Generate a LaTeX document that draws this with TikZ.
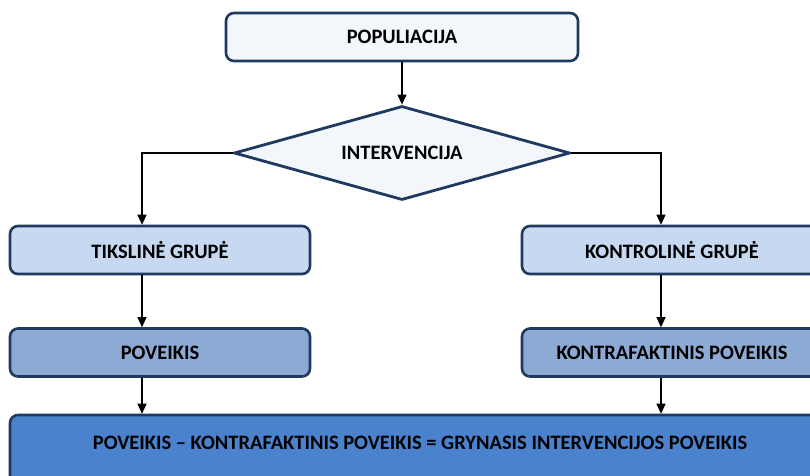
\documentclass[tikz,border=0pt]{standalone}
\usepackage{fontspec}
\setmainfont{Carlito}
\usetikzlibrary{shapes.geometric,arrows.meta}
\definecolor{navy}{HTML}{1F3A60}
\definecolor{fillA}{HTML}{F3F7FC}
\definecolor{fillB}{HTML}{C6D9F1}
\definecolor{fillC}{HTML}{8DAAD4}
\definecolor{fillD}{HTML}{4A82CE}
\tikzset{
  box/.style={draw=navy, line width=2.6pt, rounded corners=8pt, minimum width=300pt, minimum height=48pt, inner sep=0pt, font=\bfseries\fontsize{20.5}{24}\selectfont},
  conn/.style={draw=black, line width=1.2pt, -{Triangle[length=10pt,width=9pt]}}
}
\begin{document}
\begin{tikzpicture}[x=1pt,y=-1pt]
\useasboundingbox (0,0) rectangle (810,475);
\clip (0,0) rectangle (810,475);
\node[box, fill=fillA, minimum width=352pt] (pop) at (402,37) {POPULIACIJA};
\node[draw=navy, line width=2.8pt, fill=fillA, shape=diamond, aspect=3.5, minimum width=336pt, minimum height=94pt, inner sep=0pt, font=\bfseries\fontsize{20.5}{24}\selectfont] (int) at (402,153) {INTERVENCIJA};
\node[box, fill=fillB] (tg) at (160,250) {TIKSLINĖ GRUPĖ};
\node[box, fill=fillC] (pov) at (160,352.5) {POVEIKIS};
\node[box, fill=fillB] (kg) at (672,250) {KONTROLINĖ GRUPĖ};
\node[box, fill=fillC] (kp) at (672,352.5) {KONTRAFAKTINIS POVEIKIS};
\node[box, fill=fillD, minimum width=820pt, minimum height=90pt, text height=34pt, text depth=56pt] (res) at (420,460) {POVEIKIS – KONTRAFAKTINIS POVEIKIS = GRYNASIS INTERVENCIJOS POVEIKIS};
\coordinate (L) at (142,0);
\coordinate (R) at (661,0);
\draw[conn] (pop.south) -- (int.north);
\draw[conn] (int.west) -| (tg.north -| L);
\draw[conn] (int.east) -| (kg.north -| R);
\draw[conn] (tg.south -| L) -- (pov.north -| L);
\draw[conn] (kg.south -| R) -- (kp.north -| R);
\draw[conn] (pov.south -| L) -- (res.north -| L);
\draw[conn] (kp.south -| R) -- (res.north -| R);
\end{tikzpicture}
\end{document}
